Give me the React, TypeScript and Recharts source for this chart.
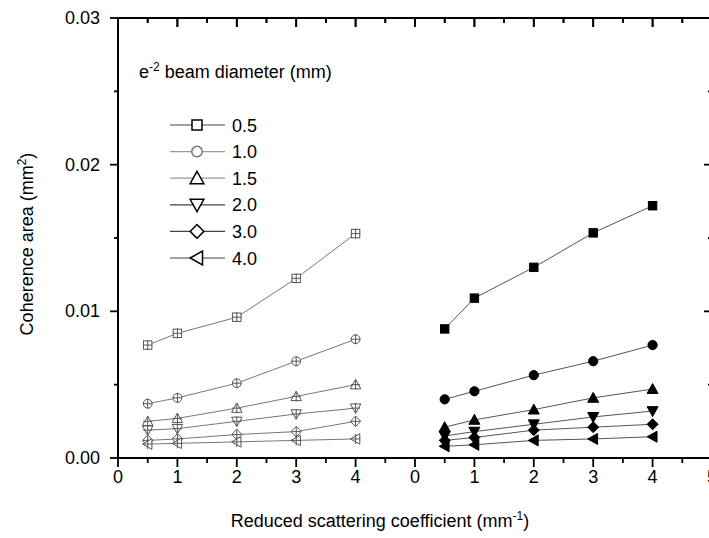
import React from 'react';
import { LineChart, Line, XAxis, YAxis, Legend } from 'recharts';

// x positions of the measurements (mm^-1); the right panel is drawn shifted by 5
const scatteringCoeff = [0.5, 1, 2, 3, 4];
const rightPanelShift = 5;

const beamDiameters = ['0.5', '1.0', '1.5', '2.0', '3.0', '4.0'];
const markerShapes = ['square', 'circle', 'triUp', 'triDown', 'diamond', 'triLeft'];

// left panel (open symbols)
const openD05 = [0.0077, 0.0085, 0.0096, 0.01225, 0.0153];
const openD10 = [0.0037, 0.0041, 0.0051, 0.0066, 0.0081];
const openD15 = [0.0025, 0.0027, 0.0034, 0.0042, 0.005];
const openD20 = [0.0019, 0.002, 0.0025, 0.003, 0.0034];
const openD30 = [0.0012, 0.0013, 0.0016, 0.0018, 0.0025];
const openD40 = [0.00095, 0.001, 0.0011, 0.0012, 0.0013];

// right panel (filled symbols)
const filledD05 = [0.0088, 0.0109, 0.013, 0.01535, 0.0172];
const filledD10 = [0.004, 0.00455, 0.00565, 0.0066, 0.0077];
const filledD15 = [0.0021, 0.0026, 0.0033, 0.0041, 0.0047];
const filledD20 = [0.0015, 0.0018, 0.0023, 0.0028, 0.0032];
const filledD30 = [0.0012, 0.0014, 0.0019, 0.0021, 0.0023];
const filledD40 = [0.0008, 0.0009, 0.0012, 0.0013, 0.00145];

const openSeries = [openD05, openD10, openD15, openD20, openD30, openD40];
const filledSeries = [filledD05, filledD10, filledD15, filledD20, filledD30, filledD40];

const xTicks = [0, 0.5, 1, 1.5, 2, 2.5, 3, 3.5, 4, 4.5, 5, 5.5, 6, 6.5, 7, 7.5, 8, 8.5, 9, 9.5, 10];
const xTickLabels = ['0', '1', '2', '3', '4', '0', '1', '2', '3', '4', '5'];
const yTicks = [0, 0.005, 0.01, 0.015, 0.02, 0.025, 0.03];

// layout
const CHART_W = 730;
const CHART_H = 538;
const M_TOP = 18;
const X_AXIS_H = 80;
const Y_AXIS_W = 118;
const Y2_AXIS_W = 18;
const PLOT_H = CHART_H - M_TOP - X_AXIS_H;
const PLOT_W = CHART_W - Y_AXIS_W - Y2_AXIS_W;

const FONT = '"Liberation Sans", Arial, sans-serif';

function Marker({ shape, cx, cy, r, fill, stroke, sw, cross }: any) {
  let el: any;
  if (shape === 'square') el = <rect x={cx - r} y={cy - r} width={2 * r} height={2 * r} />;
  else if (shape === 'circle') el = <circle cx={cx} cy={cy} r={r * 1.05} />;
  else {
    let pts = '';
    const a = r * 1.25;
    if (shape === 'triUp') pts = `${cx},${cy - a} ${cx + a},${cy + a * 0.8} ${cx - a},${cy + a * 0.8}`;
    if (shape === 'triDown') pts = `${cx},${cy + a} ${cx + a},${cy - a * 0.8} ${cx - a},${cy - a * 0.8}`;
    if (shape === 'diamond') pts = `${cx},${cy - a} ${cx + a},${cy} ${cx},${cy + a} ${cx - a},${cy}`;
    if (shape === 'triLeft') pts = `${cx - a},${cy} ${cx + a * 0.8},${cy - a} ${cx + a * 0.8},${cy + a}`;
    el = <polygon points={pts} />;
  }
  return (
    <g>
      {React.cloneElement(el, { fill, stroke, strokeWidth: sw })}
      {cross && (
        <path
          d={`M${cx - r * 1.1},${cy}H${cx + r * 1.1}M${cx},${cy - r * 1.2}V${cy + r * 1.2}`}
          stroke={stroke}
          strokeWidth={sw}
        />
      )}
    </g>
  );
}

// bottom ticks + labels; also draws the matching inward tick on the top frame
const BottomTick = ({ x, y, payload }: any) => {
  const major = Number.isInteger(payload.value);
  const topY = y - PLOT_H;
  return (
    <g>
      {payload.value === 0 && (
        <line x1={x} y1={topY} x2={x + PLOT_W} y2={topY} stroke="#000" strokeWidth={2} />
      )}
      <line x1={x} y1={topY} x2={x} y2={topY + (major ? 9 : 5)} stroke="#000" strokeWidth={1.8} />
      <line x1={x} y1={y} x2={x} y2={y + (major ? 9 : 5)} stroke="#000" strokeWidth={1.8} />
      {major && (
        <text x={x} y={y + 25} textAnchor="middle" fontSize={18} fontFamily={FONT} fill="#000">
          {xTickLabels[payload.value]}
        </text>
      )}
    </g>
  );
};

const isMajorY = (v: number) => Math.abs(v * 100 - Math.round(v * 100)) < 1e-9;

const LeftTick = ({ x, y, payload }: any) => {
  const major = isMajorY(payload.value);
  return (
    <g>
      <line x1={x - (major ? 8 : 4)} y1={y} x2={x} y2={y} stroke="#000" strokeWidth={1.8} />
      {major && (
        <text x={x - 18} y={y + 6} textAnchor="end" fontSize={18} fontFamily={FONT} fill="#000">
          {payload.value.toFixed(2)}
        </text>
      )}
    </g>
  );
};

const RightTick = ({ x, y, payload }: any) => {
  const major = isMajorY(payload.value);
  return <line x1={x - (major ? 8 : 4)} y1={y} x2={x} y2={y} stroke="#000" strokeWidth={1.8} />;
};

const YTitle = ({ viewBox }: any) => {
  const cx = viewBox.x + 33;
  const cy = viewBox.y + viewBox.height / 2 + 6;
  return (
    <text
      x={cx}
      y={cy}
      transform={`rotate(-90, ${cx}, ${cy})`}
      textAnchor="middle"
      fontSize={18}
      fontFamily={FONT}
      fill="#000"
    >
      Coherence area (mm
      <tspan dy={-7} fontSize={12}>2</tspan>
      <tspan dy={7}>)</tspan>
    </text>
  );
};

const XTitle = ({ viewBox }: any) => (
  <text x={viewBox.x + 262} y={viewBox.y + 69} textAnchor="middle" fontSize={18} fontFamily={FONT} fill="#000">
    Reduced scattering coefficient (mm
    <tspan dy={-7} fontSize={12}>-1</tspan>
    <tspan dy={7}>)</tspan>
  </text>
);

const legendLineColors = ['#444', '#999', '#999', '#444', '#444', '#444'];

// legend overlay; it also carries the top frame of the plot box
const LegendBox = () => (
  <svg width={CHART_W} height={CHART_H} style={{ display: 'block', pointerEvents: 'none' }}>
    <line x1={Y_AXIS_W} y1={M_TOP} x2={Y_AXIS_W + PLOT_W} y2={M_TOP} stroke="#000" strokeWidth={2} />
    {xTicks.map((t) => {
      const tx = Y_AXIS_W + (t / 10) * PLOT_W;
      return (
        <line
          key={`top-${t}`}
          x1={tx}
          y1={M_TOP}
          x2={tx}
          y2={M_TOP + (Number.isInteger(t) ? 9 : 5)}
          stroke="#000"
          strokeWidth={1.8}
        />
      );
    })}
    <text x={139} y={78} fontSize={18} fontFamily={FONT} fill="#000">
      e<tspan dy={-7} fontSize={12}>-2</tspan>
      <tspan dy={7}> beam diameter (mm)</tspan>
    </text>
    {beamDiameters.map((d, i) => {
      const cy = 125 + i * 26.6;
      return (
        <g key={d}>
          <line x1={170} y1={cy} x2={225} y2={cy} stroke={legendLineColors[i]} strokeWidth={1.2} />
          <Marker
            shape={markerShapes[i]}
            cx={197}
            cy={cy}
            r={i < 2 ? 5 : 5.5}
            fill="#fff"
            stroke={i === 1 ? '#777' : '#000'}
            sw={1.5}
          />
          <text x={232} y={cy + 6.5} fontSize={18} fontFamily={FONT} fill="#000">
            {d}
          </text>
        </g>
      );
    })}
  </svg>
);

export default function App() {
  const openData = openSeries.map((vals) => scatteringCoeff.map((x, i) => ({ x, y: vals[i] })));
  const filledData = filledSeries.map((vals) =>
    scatteringCoeff.map((x, i) => ({ x: x + rightPanelShift, y: vals[i] }))
  );

  return (
    <div style={{ position: 'fixed', left: 0, top: 0, width: 709, height: 538, overflow: 'hidden', background: '#fff' }}>
      <LineChart width={CHART_W} height={CHART_H} margin={{ top: M_TOP, right: 0, bottom: 0, left: 0 }}>
        <XAxis
          xAxisId="bottom"
          dataKey="x"
          type="number"
          domain={[0, 10]}
          ticks={xTicks}
          interval={0}
          allowDataOverflow
          height={X_AXIS_H}
          axisLine={{ stroke: '#000', strokeWidth: 2 }}
          tickLine={false}
          tickSize={0}
          tickMargin={0}
          tick={<BottomTick />}
          label={<XTitle />}
        />
        <YAxis
          yAxisId="left"
          type="number"
          domain={[0, 0.03]}
          ticks={yTicks}
          interval={0}
          allowDataOverflow
          width={Y_AXIS_W}
          axisLine={{ stroke: '#000', strokeWidth: 2 }}
          tickLine={false}
          tickSize={0}
          tickMargin={0}
          tick={<LeftTick />}
          label={<YTitle />}
        />
        <YAxis
          yAxisId="right"
          orientation="right"
          type="number"
          domain={[0, 0.03]}
          ticks={yTicks}
          interval={0}
          allowDataOverflow
          width={Y2_AXIS_W}
          axisLine={{ stroke: '#000', strokeWidth: 2 }}
          tickLine={false}
          tickSize={0}
          tickMargin={0}
          tick={<RightTick />}
        />
        <Legend
          layout="vertical"
          align="center"
          verticalAlign="middle"
          wrapperStyle={{ left: 0, top: 0, width: CHART_W, height: CHART_H, pointerEvents: 'none' }}
          content={<LegendBox />}
        />
        {openData.map((data, i) => (
          <Line
            key={`open-${i}`}
            xAxisId="bottom"
            yAxisId="left"
            data={data}
            dataKey="y"
            type="linear"
            stroke="#777"
            strokeWidth={1}
            isAnimationActive={false}
            dot={(p: any) => (
              <Marker
                key={`o${i}-${p.index}`}
                shape={markerShapes[i]}
                cx={p.cx}
                cy={p.cy}
                r={4.2}
                fill="#fff"
                stroke="#555"
                sw={1}
                cross
              />
            )}
          />
        ))}
        {filledData.map((data, i) => (
          <Line
            key={`filled-${i}`}
            xAxisId="bottom"
            yAxisId="left"
            data={data}
            dataKey="y"
            type="linear"
            stroke="#555"
            strokeWidth={1}
            isAnimationActive={false}
            dot={(p: any) => (
              <Marker
                key={`f${i}-${p.index}`}
                shape={markerShapes[i]}
                cx={p.cx}
                cy={p.cy}
                r={i === 0 ? 4.2 : 4.4}
                fill="#000"
                stroke="#000"
                sw={1}
              />
            )}
          />
        ))}
      </LineChart>
    </div>
  );
}
